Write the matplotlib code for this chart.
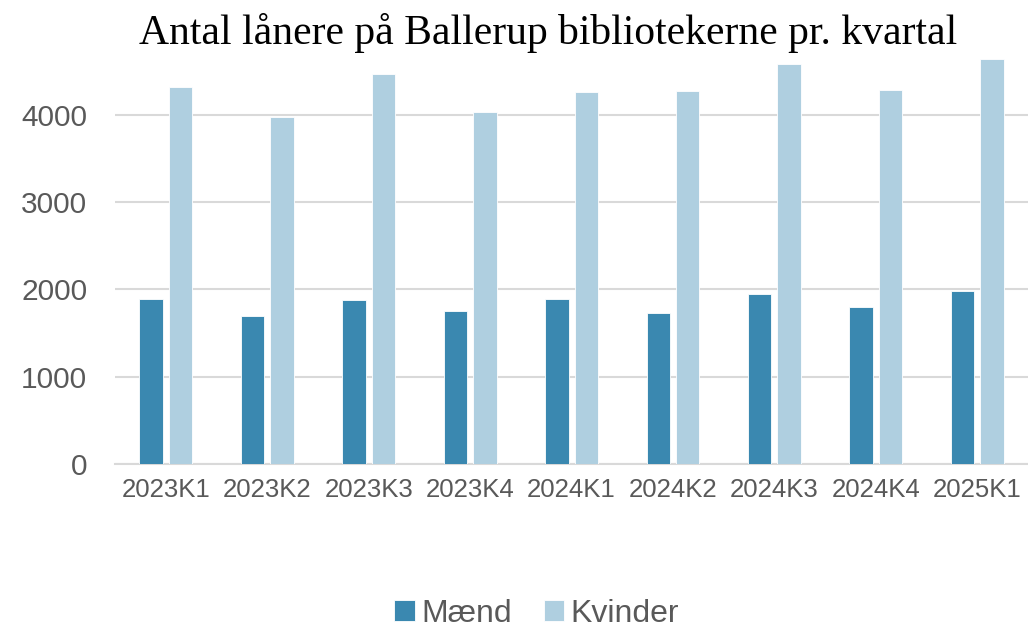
import numpy as np
import matplotlib.pyplot as plt

kvartaler = ['2023K1', '2023K2', '2023K3', '2023K4', '2024K1',
             '2024K2', '2024K3', '2024K4', '2025K1']
maend = [1893, 1697, 1877, 1746, 1885, 1723, 1950, 1801, 1985]
kvinder = [4313, 3979, 4467, 4032, 4263, 4274, 4582, 4282, 4640]

c_maend = '#3a88b0'
c_kvinder = '#afcfe0'
grey = '#595959'

fig = plt.figure(figsize=(10.28, 6.31), dpi=100)
ax = fig.add_axes([0.112, 0.265, 0.888, 0.65])

x = np.arange(len(kvartaler))
w = 0.23
ax.bar(x - 0.145, maend, w, color=c_maend, edgecolor='white', linewidth=0.6, label='Mænd', zorder=3)
ax.bar(x + 0.145, kvinder, w, color=c_kvinder, edgecolor='white', linewidth=0.6, label='Kvinder', zorder=3)

ax.set_xlim(-0.5, len(kvartaler) - 0.5)
ax.set_ylim(0, 4700)
ax.set_yticks([0, 1000, 2000, 3000, 4000])
ax.yaxis.grid(True, color='#d9d9d9', linewidth=1.5, zorder=0)
ax.set_xticks(x)
ax.set_xticklabels(kvartaler, fontsize=18.5, color=grey, family='Liberation Sans')
for t in ax.get_yticklabels():
    t.set_fontsize(21.5)
    t.set_color(grey)
    t.set_family('Liberation Sans')
ax.tick_params(axis='both', length=0)
ax.tick_params(axis='x', pad=10)
ax.tick_params(axis='y', pad=20)
for s in ['top', 'right', 'left']:
    ax.spines[s].set_visible(False)
ax.spines['bottom'].set_color('#d9d9d9')
ax.spines['bottom'].set_linewidth(1.5)

fig.suptitle('Antal lånere på Ballerup bibliotekerne pr. kvartal', x=0.533, y=0.98,
             fontsize=30, family='Liberation Serif', color='black')

leg = fig.legend(loc='lower center', bbox_to_anchor=(0.522, -0.042), ncol=2, frameon=False,
                 prop={'family': 'Liberation Sans', 'size': 23},
                 handlelength=0.65, handleheight=0.65, handletextpad=0.2, columnspacing=1.0)
for t in leg.get_texts():
    t.set_color(grey)

fig.savefig('out.png', dpi=100)
